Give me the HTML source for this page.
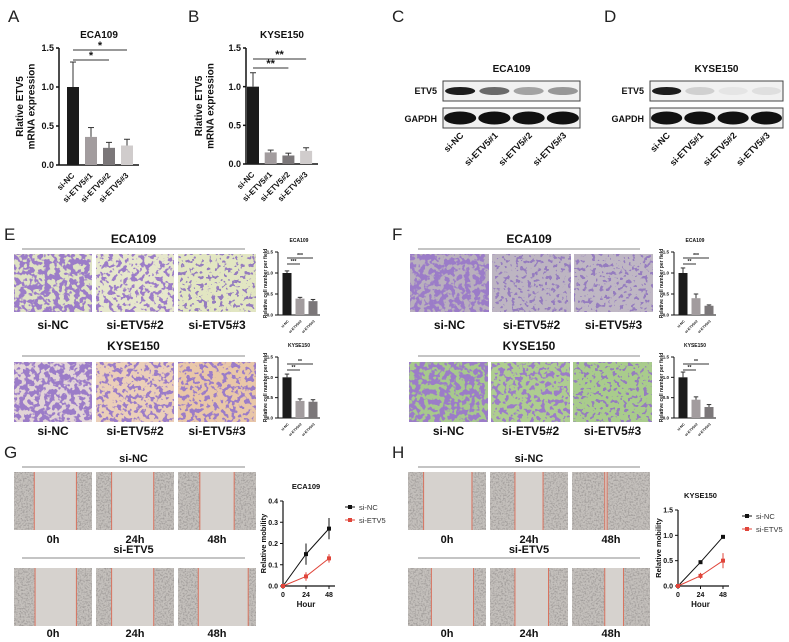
<!DOCTYPE html>
<html><head><meta charset="utf-8"><style>
html,body{margin:0;padding:0;background:#fff}
svg{display:block;font-family:"Liberation Sans",Arial,sans-serif}
</style></head><body>
<svg id="fig" width="789" height="642" viewBox="0 0 789 642" xmlns="http://www.w3.org/2000/svg">
<defs>
<filter id="cellsDense" x="0" y="0" width="1" height="1"><feTurbulence type="fractalNoise" baseFrequency="0.2" numOctaves="2" seed="3"/><feColorMatrix values="0 0 0 0 0.33 0 0 0 0 0.2 0 0 0 0 0.58 14 0 0 0 -6.4"/></filter>
<filter id="cellsMid" x="0" y="0" width="1" height="1"><feTurbulence type="fractalNoise" baseFrequency="0.22" numOctaves="2" seed="7"/><feColorMatrix values="0 0 0 0 0.33 0 0 0 0 0.2 0 0 0 0 0.58 14 0 0 0 -7.3"/></filter>
<filter id="cellsSparse" x="0" y="0" width="1" height="1"><feTurbulence type="fractalNoise" baseFrequency="0.25" numOctaves="2" seed="11"/><feColorMatrix values="0 0 0 0 0.3 0 0 0 0 0.2 0 0 0 0 0.52 14 0 0 0 -8.0"/></filter>
<filter id="grain" x="0" y="0" width="1" height="1"><feTurbulence type="fractalNoise" baseFrequency="0.6" numOctaves="2" seed="5"/><feColorMatrix values="0 0 0 0 0.35 0 0 0 0 0.33 0 0 0 0 0.32 3 0 0 0 -1.3"/></filter>
</defs>
<g id="root"></g>
</svg>
<script>
// ---- data ----
const aCats = ['si-NC','si-ETV5#1','si-ETV5#2','si-ETV5#3'];
const aVals = [1.0,0.36,0.22,0.25];
const aErr = [0.32,0.12,0.07,0.08];
const bVals = [1.0,0.15,0.11,0.17];
const bErr = [0.18,0.03,0.03,0.04];
const tickLabels15 = ['0.0','0.5','1.0','1.5'];
const tickValues15 = [0,0.5,1.0,1.5];
const smallCats = ['si-NC','si-ETV5#2','si-ETV5#3'];
const eEcaVals = [1.0,0.39,0.33];
const eEcaErr = [0.05,0.03,0.04];
const eKyVals = [1.0,0.42,0.40];
const eKyErr = [0.08,0.05,0.05];
const fEcaVals = [1.0,0.40,0.22];
const fEcaErr = [0.12,0.10,0.02];
const fKyVals = [1.0,0.45,0.27];
const fKyErr = [0.13,0.07,0.06];
const hours = [0,24,48];
const gNC = [0,0.15,0.27];
const gNCErr = [0,0.05,0.05];
const gKD = [0,0.045,0.13];
const gKDErr = [0,0.02,0.02];
const gTicks = [0,0.1,0.2,0.3,0.4];
const hNC = [0,0.47,0.97];
const hNCErr = [0,0.02,0.03];
const hKD = [0,0.2,0.5];
const hKDErr = [0,0.06,0.15];
const hTicks = [0,0.5,1.0,1.5];

const NS='http://www.w3.org/2000/svg';
const root=document.getElementById('root');
function el(tag,attrs,parent,name){const e=document.createElementNS(NS,tag);for(const k in attrs)e.setAttribute(k,attrs[k]);


(parent||root).appendChild(e);return e;}
function txt(x,y,s,size,opts,name){opts=opts||{};const t=el('text',{x:x,y:y,'font-size':size,'font-weight':opts.w||'bold','text-anchor':opts.a||'middle',fill:opts.c||'#111'},opts.p,name);
if(opts.r!==undefined)t.setAttribute('transform','rotate('+opts.r+' '+x+' '+y+')');t.textContent=s;return t;}
function line(x1,y1,x2,y2,c,w,name,p){return el('line',{x1:x1,y1:y1,x2:x2,y2:y2,stroke:c||'#111','stroke-width':w||1},p,name);}

[['A',8,22],['B',188,22],['C',392,22],['D',604,22],['E',4,240],['F',392,240],['G',4,458],['H',392,458]].forEach(l=>txt(l[1],l[2],l[0],17,{a:'start',w:'normal',c:'#222'},'panel-label-'+l[0].toLowerCase()));

function barChart(o){
  const g=el('g',{},root,o.name);
  const ys=v=>o.y0-(v/o.max)*(o.y0-o.yTop);
  line(o.ax,o.yTop,o.ax,o.y0,'#111',o.lw,'y-axis',g);
  line(o.ax,o.y0,o.ax+o.len,o.y0,'#111',o.lw,'x-axis',g);
  o.ticks.forEach((t,i)=>{line(o.ax-3,ys(t),o.ax,ys(t),'#111',o.lw,'y-tick',g);txt(o.ax-5,ys(t)+o.fs*0.35,o.tickLabels[i],o.fs,{a:'end',p:g},'y-tick-label');});
  o.vals.forEach((v,i)=>{const cx=o.ax+o.off+i*o.step;
    el('rect',{x:cx-o.bw/2,y:ys(v),width:o.bw,height:o.y0-ys(v),fill:o.colors[i]},g,'bar-'+o.cats[i]);
    const ye=ys(v+o.err[i]);line(cx,ys(v),cx,ye,'#333',1,'error-bar',g);line(cx-o.bw/4,ye,cx+o.bw/4,ye,'#333',1,'error-cap',g);
    txt(cx+2,o.y0+o.fs+2,o.cats[i],o.cfs,{a:'end',r:-45,p:g},'x-tick-label');});
  txt(o.ax+o.len/2,o.titleY,o.title,o.tfs,{p:g},'chart-title');
  o.ylab.forEach((s,i)=>txt(o.ylx+i*o.tfs*1.15,(o.y0+o.yTop)/2,s,o.tfs,{r:-90,p:g},'y-axis-title'));
  o.sig.forEach(s=>{const x1=o.ax+o.off,x2=o.ax+o.off+s[0]*o.step;line(x1,s[1],x2,s[1],'#333',1,'significance-line',g);txt((x1+x2)/2,s[1]-1,s[2],o.sfs,{p:g},'significance-mark');});
}
const colors4=['#1b1b1b','#a29c9e','#7b7779','#d0cccc'];
barChart({name:'chart-a',ax:59,y0:165,yTop:48,max:1.5,len:80,off:14,step:18,bw:12,vals:aVals,err:aErr,cats:aCats,colors:colors4,ticks:tickValues15,tickLabels:tickLabels15,fs:9,cfs:8,tfs:10,lw:1.5,title:'ECA109',titleY:38,ylab:['Rlative ETV5','mRNA expression'],ylx:23,sig:[[2,60,'*'],[3,50,'*']],sfs:11});
barChart({name:'chart-b',ax:246,y0:164,yTop:48,max:1.5,len:72,off:7,step:17.7,bw:12,vals:bVals,err:bErr,cats:aCats,colors:colors4,ticks:tickValues15,tickLabels:tickLabels15,fs:9,cfs:8,tfs:10,lw:1.5,title:'KYSE150',titleY:38,ylab:['Rlative ETV5','mRNA expression'],ylx:202,sig:[[2,68,'**'],[3,59,'**']],sfs:11});
const colors3=['#1b1b1b','#a29c9e','#7b7779'];
function small(name,ax,y0,yTop,vals,err,title,sig){barChart({name:name,ax:ax,y0:y0,yTop:yTop,max:1.5,len:42,off:9,step:13,bw:9,vals:vals,err:err,cats:smallCats,colors:colors3,ticks:tickValues15,tickLabels:tickLabels15,fs:4.5,cfs:3.5,tfs:5,lw:1,title:title,titleY:yTop-10,ylab:['Relative cell number per field'],ylx:267+(ax-278),sig:sig,sfs:5});}
small('chart-e-eca109',278,315,252,eEcaVals,eEcaErr,'ECA109',[[1,264,'***'],[2,258,'***']]);
small('chart-e-kyse150',278,418,357,eKyVals,eKyErr,'KYSE150',[[1,370,'**'],[2,364,'**']]);
small('chart-f-eca109',674,315,252,fEcaVals,fEcaErr,'ECA109',[[1,264,'**'],[2,258,'***']]);
small('chart-f-kyse150',674,418,357,fKyVals,fKyErr,'KYSE150',[[1,370,'**'],[2,364,'**']]);

function blot(name,x0,x1,title,etv){
  const g=el('g',{},root,name);
  txt((x0+x1)/2,72,title,10,{p:g},'blot-title');
  txt(x0-6,94,'ETV5',9,{a:'end',p:g},'row-label-etv5');
  txt(x0-6,122,'GAPDH',9,{a:'end',p:g},'row-label-gapdh');
  el('rect',{x:x0,y:81,width:x1-x0,height:20,fill:'#f1f1f1',stroke:'#444','stroke-width':1},g,'etv5-band-box');
  el('rect',{x:x0,y:108,width:x1-x0,height:20,fill:'#f1f1f1',stroke:'#444','stroke-width':1},g,'gapdh-band-box');
  const w=(x1-x0)/4;
  for(let i=0;i<4;i++){const cx=x0+w*(i+0.5);
    el('ellipse',{cx:cx,cy:91,rx:w*0.44,ry:4,fill:'#111','fill-opacity':etv[i]},g,'etv5-band');
    el('ellipse',{cx:cx,cy:118,rx:w*0.47,ry:6.5,fill:'#111'},g,'gapdh-band');
    txt(cx+4,136,aCats[i],9,{a:'end',r:-45,p:g},'lane-label');}
}
blot('blot-c',443,580,'ECA109',[0.95,0.6,0.35,0.4]);
blot('blot-d',650,783,'KYSE150',[0.95,0.15,0.05,0.08]);

function scope(name,x,y,w,h,bg,f){const g=el('g',{},root,name);
  el('rect',{x:x,y:y,width:w,height:h,fill:bg},g,'image-background');
  el('rect',{x:x,y:y,width:w,height:h,fill:'#000',filter:'url(#'+f+')'},g,'stained-cells');}
function group(prefix,title,lineX0,lineX1,xs,y,bgs,labels,ty,ly,w,h){
  txt((lineX0+lineX1)/2,ty,title,12,{},prefix+'-title');
  line(lineX0,ty+6,lineX1,ty+6,'#888',1,prefix+'-title-rule');
  xs.forEach((x,i)=>{scope(prefix+'-image-'+(i+1),x,y,w,h,bgs[i][0],bgs[i][1]);txt(x+w/2,ly,labels[i],12,{},prefix+'-label-'+(i+1));});
}
const twLab=['si-NC','si-ETV5#2','si-ETV5#3'];
group('e-eca109','ECA109',22,245,[14,96,178],254,[['#dfe2c4','cellsDense'],['#e6e7cc','cellsMid'],['#e2e6c2','cellsSparse']],twLab,243,329,78,58);
group('e-kyse150','KYSE150',22,245,[14,96,178],362,[['#e2d4d6','cellsDense'],['#ebcfb9','cellsMid'],['#e9c7a8','cellsMid']],twLab,350,435,78,60);
group('f-eca109','ECA109',418,640,[410,492,574],254,[['#b9b0bd','cellsDense'],['#bdb5c2','cellsSparse'],['#bfb7c4','cellsSparse']],twLab,243,329,79,58);
group('f-kyse150','KYSE150',418,640,[409,491,573],362,[['#a7c98c','cellsDense'],['#aecd90','cellsMid'],['#a9cc8c','cellsSparse']],twLab,350,435,79,60);

function wound(name,x,y,w,h,l,r){const g=el('g',{},root,name);
  el('rect',{x:x,y:y,width:w,height:h,fill:'#c4c0bc'},g,'image-background');
  el('rect',{x:x,y:y,width:w,height:h,fill:'#000',filter:'url(#grain)'},g,'cell-texture');
  el('rect',{x:x+l*w,y:y,width:(r-l)*w,height:h,fill:'#d6d2ce'},g,'wound-gap');
  line(x+l*w,y,x+l*w,y+h,'#d9735f',1,'wound-edge-left',g);line(x+r*w,y,x+r*w,y+h,'#d9735f',1,'wound-edge-right',g);}
const hLab=['0h','24h','48h'];
function wgroup(prefix,title,lx0,lx1,xs,y,ty,ly,edges){
  txt((lx0+lx1)/2,ty,title,11,{},prefix+'-title');line(lx0,ty+5,lx1,ty+5,'#888',1,prefix+'-title-rule');
  xs.forEach((x,i)=>{wound(prefix+'-image-'+(i+1),x,y,78,58,edges[i][0],edges[i][1]);txt(x+39,ly,hLab[i],11,{},prefix+'-label-'+(i+1));});}
wgroup('g-sinc','si-NC',22,245,[14,96,178],472,462,543,[[0.26,0.8],[0.2,0.74],[0.28,0.72]]);
wgroup('g-sietv5','si-ETV5',22,245,[14,96,178],568,553,637,[[0.27,0.8],[0.2,0.74],[0.26,0.9]]);
wgroup('h-sinc','si-NC',418,640,[408,490,572],472,462,543,[[0.2,0.82],[0.32,0.68],[0.42,0.45]]);
wgroup('h-sietv5','si-ETV5',418,640,[408,490,572],568,553,637,[[0.3,0.84],[0.32,0.75],[0.42,0.66]]);

function lineChart(o){
  const g=el('g',{},root,o.name);
  const xs=h=>o.ax+(h/48)*o.xw, ys=v=>o.y0-(v/o.max)*(o.y0-o.yTop);
  line(o.ax,o.yTop,o.ax,o.y0,'#111',1.2,'y-axis',g);line(o.ax,o.y0,o.ax+o.xw+6,o.y0,'#111',1.2,'x-axis',g);
  o.ticks.forEach(t=>{line(o.ax-3,ys(t),o.ax,ys(t),'#111',1,'y-tick',g);txt(o.ax-5,ys(t)+2.5,t.toFixed(1),7,{a:'end',p:g},'y-tick-label');});
  hours.forEach(h=>{line(xs(h),o.y0,xs(h),o.y0+3,'#111',1,'x-tick',g);txt(xs(h),o.y0+11,String(h),7,{p:g},'x-tick-label');});
  txt(o.ax+o.xw/2,o.y0+21,'Hour',8,{p:g},'x-axis-title');
  txt(o.ax-17,(o.y0+o.yTop)/2,'Relative mobility',7.5,{r:-90,p:g},'y-axis-title');
  txt(o.ax+o.xw/2,o.yTop-12,o.title,7.5,{p:g},'chart-title');
  [[o.nc,o.ncE,'#111','si-NC'],[o.kd,o.kdE,'#e0453a','si-ETV5']].forEach((s,k)=>{
    const pts=s[0].map((v,i)=>xs(hours[i])+','+ys(v)).join(' ');
    el('polyline',{points:pts,fill:'none',stroke:s[2],'stroke-width':1},g,'series-line-'+s[3]);
    s[0].forEach((v,i)=>{const x=xs(hours[i]);line(x,ys(v-s[1][i]),x,ys(v+s[1][i]),s[2],1,'error-bar',g);
      el('rect',{x:x-2,y:ys(v)-2,width:4,height:4,fill:s[2]},g,'point-'+s[3]);});
    const ly=o.yTop+6+k*13;line(o.lx,ly,o.lx+10,ly,s[2],1,'legend-line',g);el('rect',{x:o.lx+3,y:ly-2,width:4,height:4,fill:s[2]},g,'legend-marker');
    txt(o.lx+14,ly+3,s[3],7.5,{a:'start',w:'normal',c:'#333',p:g},'legend-entry');});
}
lineChart({name:'chart-g',ax:283,xw:46,y0:586,yTop:501,max:0.4,ticks:gTicks,nc:gNC,ncE:gNCErr,kd:gKD,kdE:gKDErr,title:'ECA109',lx:345});
lineChart({name:'chart-h',ax:678,xw:45,y0:586,yTop:510,max:1.5,ticks:hTicks,nc:hNC,ncE:hNCErr,kd:hKD,kdE:hKDErr,title:'KYSE150',lx:742});
</script>
</body></html>
